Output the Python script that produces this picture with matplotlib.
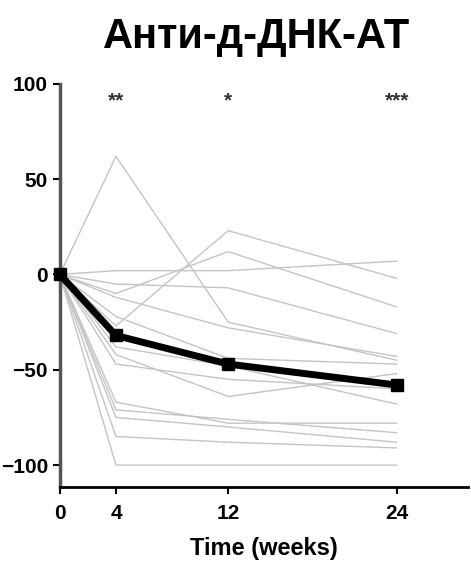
import matplotlib.pyplot as plt
import numpy as np

plt.rcParams['font.family'] = ['Liberation Sans', 'DejaVu Sans']

weeks = [0, 4, 12, 24]

# individual patients, % change from baseline
patients = [
    [0, 62, -25, -45],
    [0, 2, 2, 7],
    [0, -27, 23, -2],
    [0, -10, 12, -17],
    [0, -5, -7, -31],
    [0, -12, -28, -43],
    [0, -22, -44, -47],
    [0, -38, -48, -68],
    [0, -42, -64, -52],
    [0, -47, -55, -60],
    [0, -67, -78, -78],
    [0, -71, -76, -83],
    [0, -75, -80, -88],
    [0, -85, -88, -91],
    [0, -100, -100, -100],
]

mean_values = [0, -32, -47, -58]

stars = ["**", "*", "***"]
star_weeks = [4, 12, 24]

fig = plt.figure(figsize=(4.71, 5.63), dpi=100)
ax = fig.add_axes([0.127, 0.135, 0.867, 0.716])

for p in patients:
    ax.plot(weeks, p, color="#c4c4c4", lw=1.0, zorder=1)

ax.plot(weeks, mean_values, color="black", lw=5, marker="s", markersize=9,
        zorder=3, clip_on=False)

for w, s in zip(star_weeks, stars):
    ax.text(w, 91, s, ha="center", va="center", fontsize=15, fontweight="bold",
            color="#333333")

ax.set_xlim(0, 29.1)
ax.set_ylim(-111.5, 100)
ax.set_xticks(weeks)
ax.set_yticks([-100, -50, 0, 50, 100])
ax.tick_params(axis="both", labelsize=15, width=1.5, length=5)
ax.tick_params(axis="x", pad=7)
for lab in ax.get_xticklabels() + ax.get_yticklabels():
    lab.set_fontweight("bold")

ax.spines["top"].set_visible(False)
ax.spines["right"].set_visible(False)
ax.spines["left"].set_linewidth(2.5)
ax.spines["left"].set_color("#555555")
ax.spines["bottom"].set_linewidth(2)

ax.set_xlabel("Time (weeks)", fontsize=17, fontweight="bold", labelpad=10)
fig.suptitle("Анти-д-ДНК-АТ", fontsize=30, fontweight="bold", x=0.545, y=0.97)

fig.savefig("out.png", dpi=100)
